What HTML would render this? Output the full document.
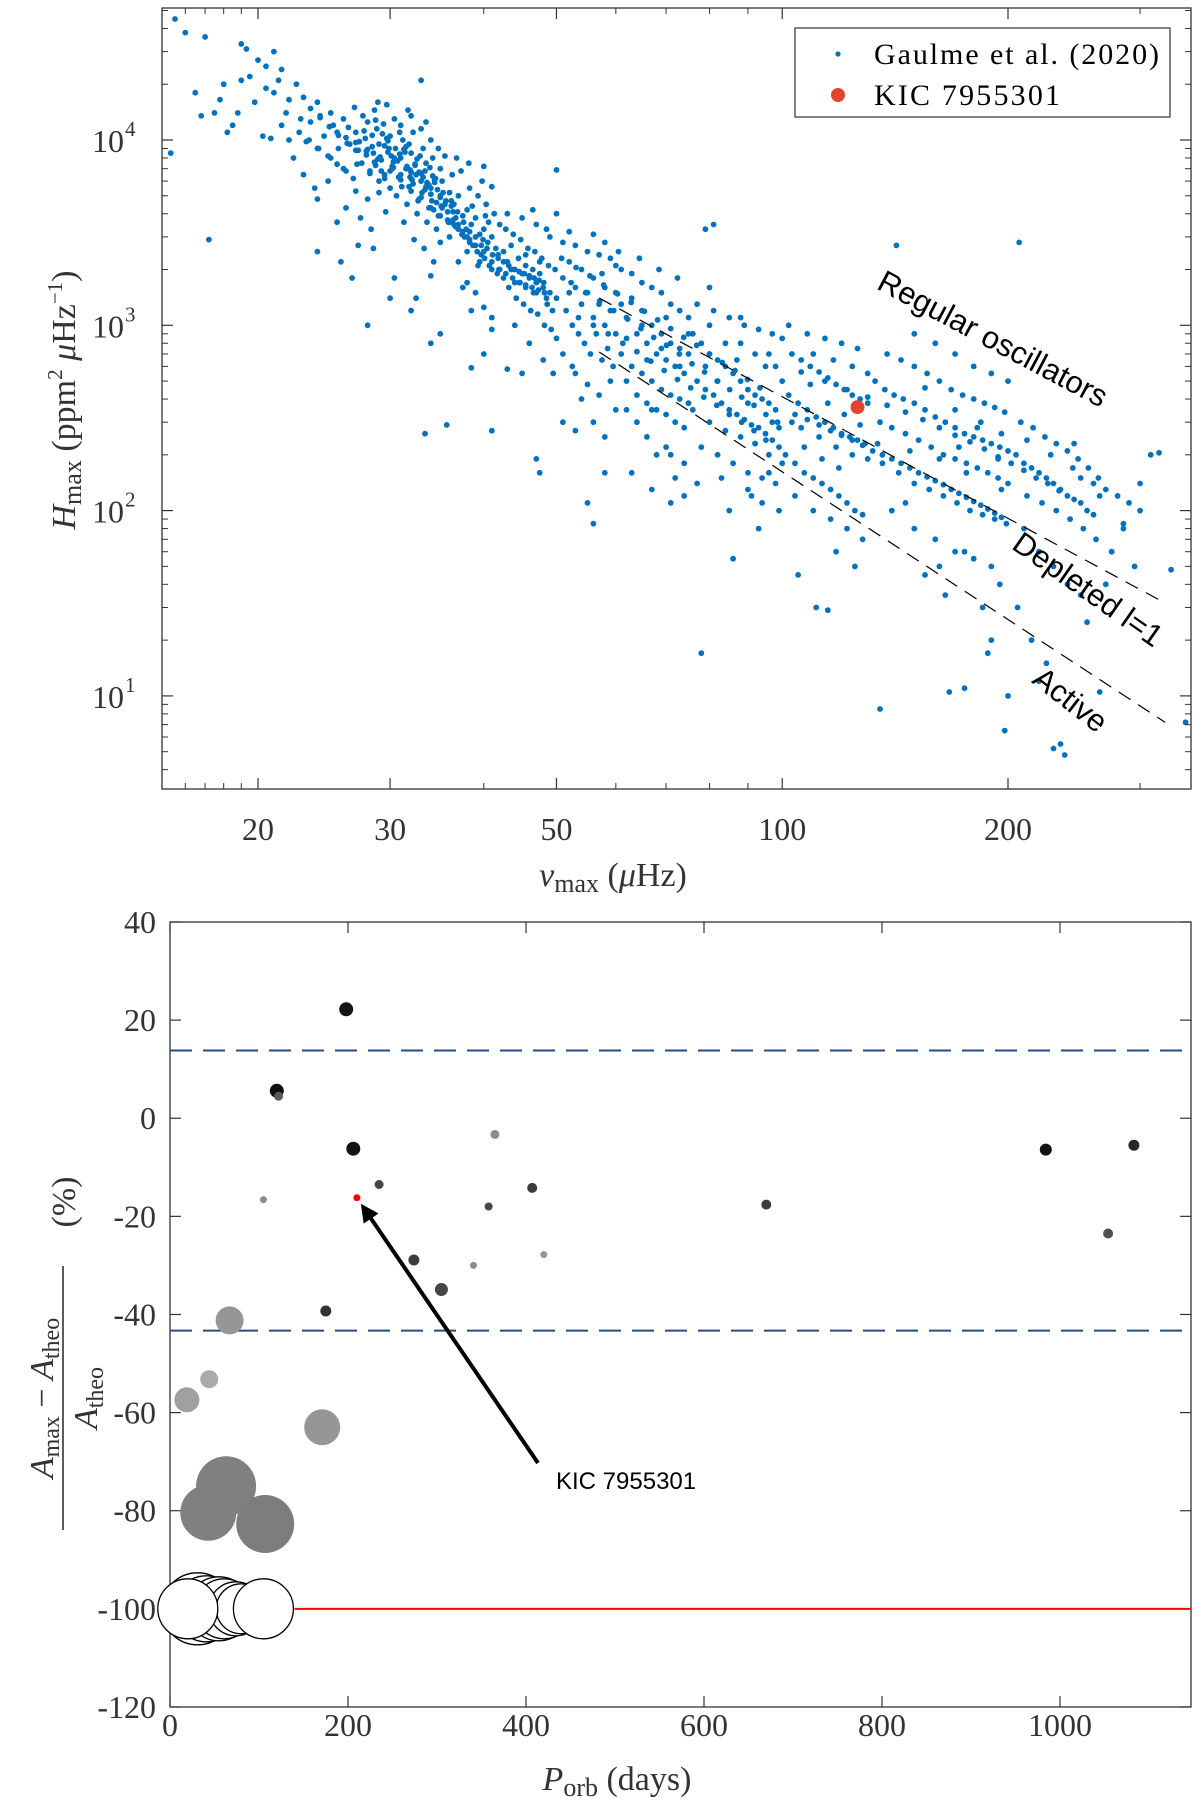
<!DOCTYPE html>
<html><head><meta charset="utf-8"><style>
html,body{margin:0;padding:0;background:#fff;}
svg{display:block;font-family:"Liberation Serif",serif;}
</style></head><body>
<svg id="fig" width="1200" height="1805" viewBox="0 0 1200 1805" xmlns="http://www.w3.org/2000/svg">
<g id="topPanel"></g>
<g id="botPanel"></g>
</svg>
<script>
// ---------- TOP PANEL DATA ----------
const nuValues=[15.5,16,15.3,16.5,17,17.5,17.2,18,18.5,19,19.3,19.5,19.8,18.8,16.8,17.8,20,20.5,20.3,19,18.2,
21,21.5,21,21.8,22,22.5,23,23.5,24,24.5,22.3,23,24,25,25,25.5,24.8,23.8,22.8,21.5,20.8,25.2,24.2,23.2,22,20.5,21.3,24,25.5,24,25.8,
26,26.5,27,27.5,28,28.5,29,29.5,30,26,26.8,27.2,27.8,28.2,28.8,29.2,29.8,30.2,26.4,27.6,28.6,29.4,30,29,28,27,26.2,27.4,28.3,29.6,30.4,25.6,26.9,28.9,29.7,27.2,28.5,26.7,28,30,29,28.4,27,26.2,29.9,28.7,27.9,29.3,
30.5,31,31.5,32,32.5,33,33.5,34,34.5,35,30.8,31.2,31.8,32.2,32.8,33.2,33.8,34.2,34.8,31,32,33,34,35,30.6,31.6,32.6,33.6,34.6,35.5,30.3,31.4,32.4,33.4,34.4,35.2,31.8,32.9,33.9,30.9,32.1,33.1,34.1,31.3,32.3,33.3,34.3,33,32.5,34,35,33.5,34.8,35.5,31.7,30.4,32,34,35,33.4,35.7,
36,36.5,37,37.5,38,38.5,39,39.5,40,40.5,41,41.5,36.3,37.3,38.3,39.3,40.3,41.3,36.7,37.7,38.7,39.7,40.7,41.7,36,37,38,39,40,41,36.8,38.2,39.8,41,38.5,40,41,37.5,39.3,40.6,35.8,37.9,39.9,41.8,36.4,38.6,40.2,42,42,40,41,38.5,
42.5,43,43.5,44,44.5,45,45.5,46,46.5,47,47.5,48,49,50,42.8,43.8,44.8,45.8,46.8,47.8,48.8,49.8,43.2,44.2,45.2,46.2,47.2,48.2,49.2,50,43,45,47,49,50,44,46,48,49.5,43.5,45.5,47.5,46.5,48.5,50,45,47,47.5,43,44.7,46.6,48.6,49.4,
51,52,53,54,55,56,57,58,59,60,51.5,52.5,53.5,54.5,55.5,56.5,57.5,58.5,59.5,51,53,55,57,59,60,52,54,56,58,60,51,53,55,57,59,52,56,58,54,56,58,55,58,56,53,51,60,52.5,57.5,
61,62,63,64,65,66,67,68,69,70,71,72,73,74,75,61,63,65,67,69,71,73,75,62,64,66,68,70,72,74,61,63,65,67,69,71,73,75,62,66,70,74,64,68,72,63,67,71,65,69,73,60.5,64.5,68.5,72.5,70,75,66,62,71,74,67,
76,78,80,82,84,86,88,90,92,94,96,98,77,79,81,83,85,87,89,91,93,95,97,99,76,80,84,88,92,96,100,78,82,86,90,94,98,77,81,85,89,93,97,100,80,88,96,79,87,95,83,91,99,85,93,86,78,81,79,90,94,97,82,90,98,84,92,100,77,80,88,92,96,99,
102,105,108,111,114,117,120,123,126,129,103,106,109,112,115,118,121,124,127,130,101,104,107,110,113,116,119,122,125,128,102,108,114,120,126,104,110,116,122,128,106,112,118,124,130,111,115,105,118,125,103,109,115,121,127,110,117,124,130,107,113,119,
133,137,141,145,150,155,160,165,170,175,180,185,190,195,200,135,140,146,152,158,164,170,176,182,188,194,200,138,144,150,156,162,168,174,180,186,192,198,136,143,150,157,164,171,178,185,192,199,140,150,160,170,180,190,150,160,170,180,190,200,134,148,162,176,196,135,155,165,175,185,195,167,175,190,162,146,172,184,196,155,170,182,194,142,188,200,198,
205,210,215,220,225,230,235,240,245,250,255,260,208,216,224,232,240,248,256,264,212,222,232,242,252,262,210,220,230,240,250,206,215,225,235,238,230,220,270,280,290,300,275,295,310,318,330,345,260,250,245,265,285,270,255,212,228,244,207,265,285,300,
27.3,27.9,28.4,28.9,29.5,30.1,30.7,31.3,31.9,32.4,33,33.6,34.2,34.7,35.3,27.1,27.7,28.2,28.7,29.1,29.7,30.3,30.9,31.5,32,32.6,33.2,33.8,34.4,35,35.6,36.2,28,28.6,29.2,29.8,30.4,31,31.6,32.2,32.8,33.4,34,34.6,35.2,35.8,36.4,37,29.5,30.2,31.1,31.9,32.7,33.5,34.3,35.1,35.9,36.7,37.5,38.3,30,31,32,33,34,35,36,37,38,39,40,
36.2,36.9,37.6,38.3,39,39.7,40.4,41.1,41.8,42.5,43.2,43.9,44.6,45.3,46,46.7,47.4,48.1,36.5,37.4,38.3,39.2,40.1,41,41.9,42.8,43.7,44.6,45.5,46.4,47.3,48.2,38,39.5,41,42.5,44,45.5,47,48.5,
23.5,24.2,24.9,25.6,26.3,27,22.7,23.4,24.1,24.8,25.5,26.2,
52.3,54.7,57.1,59.6,62.2,64.8,67.4,70.1,72.9,75.8,78.8,81.9,85.1,88.3,91.7,95.1,98.6,53.5,56,58.6,61.3,64,66.8,69.6,72.5,75.5,78.6,81.8,85,88.3,91.7,95.1,50.8,53.1,55.4,57.8,60.3,62.9,65.5,68.2,71,73.9,76.9,80,83.2,86.5,89.9,93.4,
104,108,112,116,120,124,128,132,136,140,144,148,152,156,160,164,168,172,176,180,184,188,192,196,106,114,122,130,138,146,154,162,170,178,186,194,202,210,218,226,234];
const hmaxValues=[45000,38000,8500,18000,36000,14000,2900,20000,12000,33000,31000,22000,16000,14000,13500,16500,27000,25000,10500,21000,11000,
30000,24000,18000,14000,10000,20000,17000,12500,16000,10500,8000,6500,9000,14000,8000,11000,6000,5500,13000,12000,10200,12000,13500,9800,16500,19000,21000,4800,3600,2500,2200,
13000,9500,11000,7500,12500,8500,9500,6500,10500,7000,6200,8800,10200,6800,11500,7800,8600,7200,11700,13500,14500,12200,5500,5200,4800,5300,4300,3800,3300,4100,13000,9000,15000,16000,15500,2700,2600,1800,1000,1400,6000,9200,9700,10300,9000,7300,8300,10800,
9000,8000,7000,8500,6500,6000,7500,5500,6200,5000,6300,10000,5600,11000,4800,9000,4300,8000,3900,12000,13500,11500,10000,7000,5000,4500,4000,3600,3300,4500,7600,8600,7400,6800,5900,6000,9500,8200,7100,11000,6100,5200,4700,3600,2900,2600,2200,21000,1400,1850,2800,12500,9000,8200,14500,1800,1200,800,900,260,290,
5200,4500,5000,3900,4200,3500,3800,3100,3300,2800,3000,2600,6500,6800,5500,5000,4500,4000,3400,3000,2700,2400,2100,1900,3000,2200,1700,1500,1250,1100,8000,7500,6000,5600,1200,700,950,1600,2100,3600,3700,3300,2900,2400,4100,4400,3900,3500,2000,7200,270,590,
2500,2200,2700,2000,2300,1900,2100,1800,2000,1700,1900,1600,1500,1400,3300,3100,2900,2600,2500,2300,2100,2000,1600,1400,1300,1200,1150,1000,950,850,4000,3800,3500,3000,4000,1000,800,650,550,2000,2400,2200,4200,3300,6900,550,190,160,580,1700,1500,1300,1200,
1800,2200,1600,2000,1500,1800,1300,1600,1200,1500,1200,1000,900,800,700,900,650,750,600,2800,2700,2500,2400,2300,2100,1500,1300,1100,1000,900,700,550,480,420,500,3200,3100,2800,400,300,250,110,160,85,270,300,350,600,1900,
1300,1100,1400,900,1200,800,1000,700,900,650,800,600,750,550,700,700,600,550,500,450,420,400,380,500,420,380,350,330,300,280,2000,1900,1700,1600,1500,1300,1200,1100,350,250,220,180,300,200,150,160,130,110,1000,750,600,2500,2300,2000,1800,1100,900,650,850,200,120,350,
900,800,700,650,600,550,500,450,420,400,380,350,500,450,420,380,350,330,310,290,280,260,240,220,350,300,270,250,230,200,180,220,200,180,160,150,140,1300,1200,1100,1000,950,900,850,1000,800,700,600,650,600,150,120,100,100,80,55,17,3500,3300,130,110,300,500,380,600,800,700,500,140,1600,1100,230,160,280,
420,380,350,320,300,280,260,250,240,230,700,650,600,560,520,480,450,420,400,380,200,180,160,150,140,130,120,110,100,95,1000,900,850,800,750,120,100,90,80,70,280,250,220,200,190,30,29,45,60,50,300,480,380,330,290,700,650,600,550,220,190,170,
500,450,420,400,380,350,320,300,280,260,250,240,230,220,210,300,280,260,240,220,200,190,180,170,160,150,140,700,650,600,550,500,450,420,400,380,360,340,180,160,140,130,120,110,100,95,90,85,100,80,70,60,55,50,900,800,700,600,550,500,230,210,190,160,130,8.5,45,35,60,30,40,10.5,11,20,50,110,220,300,260,460,350,280,190,2700,17,10,6.5,
200,180,170,160,150,140,130,120,115,110,100,95,300,280,250,230,210,190,170,150,120,110,100,90,80,70,80,60,50,40,35,30,20,15,5.5,4.8,5.2,12,130,120,110,100,60,50,200,205,48,7.2,140,150,230,120,85,40,25,240,200,170,2800,10.5,80,140,
9800,8700,10600,7900,9300,8200,7700,8900,6900,7300,6600,5900,6400,5400,5200,7400,11200,6600,12800,8100,10200,7100,8400,9200,6700,7900,6300,5700,6100,4900,4700,4400,8900,7600,6800,9900,8000,6500,7200,5800,6700,5400,5100,4600,4300,4100,3700,3500,6200,7000,5600,6300,4700,5600,4200,4400,3600,3800,3200,2900,6800,6100,5300,4900,4300,3900,3600,3300,3000,2700,2500,
4700,4100,3600,3200,3000,2700,2600,2400,2300,2200,2100,2000,1950,1900,1850,1800,1750,1700,3500,3100,2800,2500,2300,2200,2000,1900,1800,1700,1650,1600,1550,1500,2500,2200,2000,1800,1700,1600,1500,1400,
14800,13200,11800,10600,9600,8800,11000,10000,9000,8200,7400,6800,
1700,1500,1350,1200,1080,960,860,780,700,620,560,500,450,410,370,330,300,1100,1000,900,800,720,640,570,510,460,410,370,330,300,270,240,2300,2050,1850,1650,1480,1330,1190,1070,960,860,780,700,630,570,510,460,
330,310,290,270,255,240,225,210,200,190,180,170,160,152,145,138,130,124,118,112,107,102,97,92,560,500,450,410,370,340,310,280,255,235,215,195,180,165,150,140,128];
const kicNu=[126];
const kicH=[362];
const boundNu=[57,324];
const boundUpperH=[1403,31.7];
const boundLowerH=[718,7.2];
const xTickVals=[20,30,50,100,200];
const xMinorVals=[16,17,18,19,40,60,70,80,90,300];
const yTickExps=[1,2,3,4];

// ---------- BOTTOM PANEL DATA ----------
const porb=[198,120,122,206,365,105,235,358,407,670,984,1083,1054,274,341,420,305,175,67,44,19,171,63,43,107,31,41,55,61,74,80,105,20];
const deviation=[22.2,5.6,4.5,-6.2,-3.3,-16.6,-13.5,-18,-14.2,-17.6,-6.4,-5.5,-23.5,-28.9,-30,-27.8,-34.9,-39.3,-41.2,-53.2,-57.4,-63,-75,-80.4,-82.7,-100,-100,-100,-100,-100,-100,-100,-100];
const markerSize=[7,7,4.5,7,4.5,3.5,4.5,4,5,5,6,5.5,5,5.5,3.5,3.5,6.5,5.5,14,9,12.5,18,30,28,29,36,33,32,30,27,25,30,30];
const grayLevel=[20,15,90,20,140,140,70,70,60,60,20,40,80,60,140,150,70,50,150,170,160,150,128,128,125,255,255,255,255,255,255,255,255];
const kicPorb=[210];
const kicDev=[-16.2];
const bandUpper=[13.8];
const bandLower=[-43.3];
const redLevel=[-100];
const redStart=[140];
const bxTicks=[0,200,400,600,800,1000];
const byTicks=[40,20,0,-20,-40,-60,-80,-100,-120];

const SVGNS="http://www.w3.org/2000/svg";
function mk(tag,attrs,parent){const e=document.createElementNS(SVGNS,tag);for(const k in attrs)e.setAttribute(k,attrs[k]);parent.appendChild(e);return e;}

function drawAll(){
const topG=document.getElementById('topPanel');
const TL=162,TR=1191,TT=8,TB=789;
const xT=v=>258+750*Math.log10(v/20);
const yT=v=>140-185.3*(Math.log10(v)-4);

const cp=mk('clipPath',{id:'cpTop'},topG);
mk('rect',{x:TL,y:TT,width:TR-TL,height:TB-TT},cp);
const ptsG=mk('g',{'clip-path':'url(#cpTop)'},topG);


for(let i=0;i<nuValues.length;i++){
  const c=mk('circle',{cx:xT(nuValues[i]).toFixed(1),cy:yT(hmaxValues[i]).toFixed(1),r:2.9,fill:'#0072BD'},ptsG);
  
  
}
[boundUpperH,boundLowerH].forEach((arr,j)=>{
  const l=mk('line',{x1:xT(boundNu[0]),y1:yT(arr[0]),x2:xT(boundNu[1]),y2:yT(arr[1]),stroke:'#000','stroke-width':1.2,'stroke-dasharray':'14,9'},topG);
  
  
});
const kc=mk('circle',{cx:xT(kicNu[0]),cy:yT(kicH[0]),r:7,fill:'#E2452E'},topG);



const box=mk('rect',{x:TL,y:TT,width:TR-TL,height:TB-TT,fill:'none',stroke:'#333','stroke-width':1.3},topG);


xTickVals.forEach(v=>{
  const x=xT(v);
  mk('line',{x1:x,y1:TB,x2:x,y2:TB-11,stroke:'#333','stroke-width':1.2},topG);
  mk('line',{x1:x,y1:TT,x2:x,y2:TT+11,stroke:'#333','stroke-width':1.2},topG);
  const t=mk('text',{x:x,y:840,'font-size':32,'text-anchor':'middle',fill:'#333'},topG);
  t.textContent=v;
  
  
});
xMinorVals.forEach(v=>{
  const x=xT(v); if(x<TL||x>TR)return;
  mk('line',{x1:x,y1:TB,x2:x,y2:TB-6,stroke:'#333','stroke-width':1},topG);
  mk('line',{x1:x,y1:TT,x2:x,y2:TT+6,stroke:'#333','stroke-width':1},topG);
});
yTickExps.forEach(e=>{
  const y=yT(Math.pow(10,e));
  mk('line',{x1:TL,y1:y,x2:TL+11,y2:y,stroke:'#333','stroke-width':1.2},topG);
  mk('line',{x1:TR,y1:y,x2:TR-11,y2:y,stroke:'#333','stroke-width':1.2},topG);
  const t=mk('text',{x:124,y:y+12,'font-size':32,'text-anchor':'end',fill:'#333'},topG);
  t.textContent='10';
  
  
  const s=mk('text',{x:125,y:y-4,'font-size':21,fill:'#333'},topG);
  s.textContent=e;
  for(let m=2;m<=9;m++){
    const ym=yT(m*Math.pow(10,e)); if(ym<TT)continue;
    mk('line',{x1:TL,y1:ym,x2:TL+6,y2:ym,stroke:'#333','stroke-width':1},topG);
    mk('line',{x1:TR,y1:ym,x2:TR-6,y2:ym,stroke:'#333','stroke-width':1},topG);
  }
});
for(let m=4;m<=9;m++){const ym=yT(m);mk('line',{x1:TL,y1:ym,x2:TL+6,y2:ym,stroke:'#333','stroke-width':1},topG);mk('line',{x1:TR,y1:ym,x2:TR-6,y2:ym,stroke:'#333','stroke-width':1},topG);}

topG.insertAdjacentHTML('beforeend',`
<g>
<rect x="795" y="28" width="375" height="89" fill="#fff" stroke="#333" stroke-width="1.2"/>
<circle cx="838" cy="54" r="2.6" fill="#0072BD"/>
<text x="874" y="64" font-size="30" fill="#000" textLength="285">Gaulme et al. (2020)</text>
<circle cx="838" cy="95" r="7" fill="#E2452E"/>
<text x="874" y="105" font-size="30" fill="#000" textLength="186">KIC 7955301</text>
</g>
<text transform="translate(988,348) rotate(28)" font-family="Liberation Sans, sans-serif" font-size="31" text-anchor="middle" fill="#000">Regular oscillators</text>
<text transform="translate(1082,598) rotate(35)" font-family="Liberation Sans, sans-serif" font-size="31" text-anchor="middle" fill="#000">Depleted l=1</text>
<text transform="translate(1064,708) rotate(38)" font-family="Liberation Sans, sans-serif" font-size="31" text-anchor="middle" fill="#000">Active</text>
<text x="613" y="886" font-size="34" text-anchor="middle" fill="#333"><tspan font-style="italic">ν</tspan><tspan font-size="26" dy="6">max</tspan><tspan dy="-6"> (</tspan><tspan font-style="italic">μ</tspan>Hz)</text>
<text transform="translate(75,400) rotate(-90)" font-size="34" text-anchor="middle" fill="#333"><tspan font-style="italic">H</tspan><tspan font-size="26" dy="6">max</tspan><tspan dy="-6"> (ppm</tspan><tspan font-size="21" dy="-13">2</tspan><tspan dy="13"> </tspan><tspan font-style="italic">μ</tspan>Hz<tspan font-size="21" dy="-13">−1</tspan><tspan dy="13">)</tspan></text>
`);

const botG=document.getElementById('botPanel');
const BL=170,BR=1191,BT=922,BB=1707;
const xB=v=>BL+v*0.89;
const yB=v=>BT+(40-v)*4.906;

const bx=mk('rect',{x:BL,y:BT,width:BR-BL,height:BB-BT,fill:'none',stroke:'#333','stroke-width':1.3},botG);


bxTicks.forEach(v=>{
  const x=xB(v);
  mk('line',{x1:x,y1:BB,x2:x,y2:BB-11,stroke:'#333','stroke-width':1.2},botG);
  mk('line',{x1:x,y1:BT,x2:x,y2:BT+11,stroke:'#333','stroke-width':1.2},botG);
  const t=mk('text',{x:x,y:1736,'font-size':32,'text-anchor':'middle',fill:'#333'},botG);
  t.textContent=v;
  
  
});
byTicks.forEach(v=>{
  const y=yB(v);
  mk('line',{x1:BL,y1:y,x2:BL+11,y2:y,stroke:'#333','stroke-width':1.2},botG);
  mk('line',{x1:BR,y1:y,x2:BR-11,y2:y,stroke:'#333','stroke-width':1.2},botG);
  const t=mk('text',{x:156,y:y+11,'font-size':32,'text-anchor':'end',fill:'#333'},botG);
  t.textContent=v;
  
  
});
[bandUpper[0],bandLower[0]].forEach((v,j)=>{
  const l=mk('line',{x1:BL,y1:yB(v),x2:BR,y2:yB(v),stroke:'#1F4E8C','stroke-width':2,'stroke-dasharray':'22,11'},botG);
  
  
});
const rl=mk('line',{x1:xB(redStart[0]),y1:yB(redLevel[0]),x2:BR,y2:yB(redLevel[0]),stroke:'#FF0000','stroke-width':2},botG);


for(let i=0;i<porb.length;i++){
  const g=grayLevel[i];
  const c=mk('circle',{cx:xB(porb[i]).toFixed(1),cy:yB(deviation[i]).toFixed(1),r:markerSize[i],fill:`rgb(${g},${g},${g})`,stroke:g==255?'#000':'none','stroke-width':1.3},botG);
  
  
}
const kb=mk('circle',{cx:xB(kicPorb[0]),cy:yB(kicDev[0]),r:3.5,fill:'#FF0000'},botG);


const ax0=538,ay0=1463,ax1=xB(kicPorb[0])+4,ay1=yB(kicDev[0])+6;
const ang=Math.atan2(ay1-ay0,ax1-ax0);
const arr=mk('g',{},botG);


mk('line',{x1:ax0,y1:ay0,x2:ax1-10*Math.cos(ang),y2:ay1-10*Math.sin(ang),stroke:'#000','stroke-width':4},arr);
const hl=18,hw=9;
const bxp=ax1-hl*Math.cos(ang),byp=ay1-hl*Math.sin(ang);
mk('polygon',{points:`${ax1},${ay1} ${bxp+hw*Math.sin(ang)},${byp-hw*Math.cos(ang)} ${bxp-hw*Math.sin(ang)},${byp+hw*Math.cos(ang)}`,fill:'#000'},arr);

botG.insertAdjacentHTML('beforeend',`
<text x="556" y="1489" font-family="Liberation Sans, sans-serif" font-size="24" fill="#000">KIC 7955301</text>
<text x="617" y="1790" font-size="34" text-anchor="middle" fill="#333"><tspan font-style="italic">P</tspan><tspan font-size="26" dy="6">orb</tspan><tspan dy="-6"> (days)</tspan></text>
<g transform="translate(63,1398) rotate(-90)" fill="#333">
<text x="0" y="-10" font-size="34" text-anchor="middle"><tspan font-style="italic">A</tspan><tspan font-size="24" dy="6">max</tspan><tspan dy="-6"> − </tspan><tspan font-style="italic">A</tspan><tspan font-size="24" dy="6">theo</tspan></text>
<line x1="-132" y1="0" x2="132" y2="0" stroke="#333" stroke-width="1.6"/>
<text x="0" y="34" font-size="34" text-anchor="middle"><tspan font-style="italic">A</tspan><tspan font-size="24" dy="6">theo</tspan></text>
<text x="196" y="12" font-size="34" text-anchor="middle">(%)</text>
</g>
`);
}
drawAll();
</script>
</body></html>
